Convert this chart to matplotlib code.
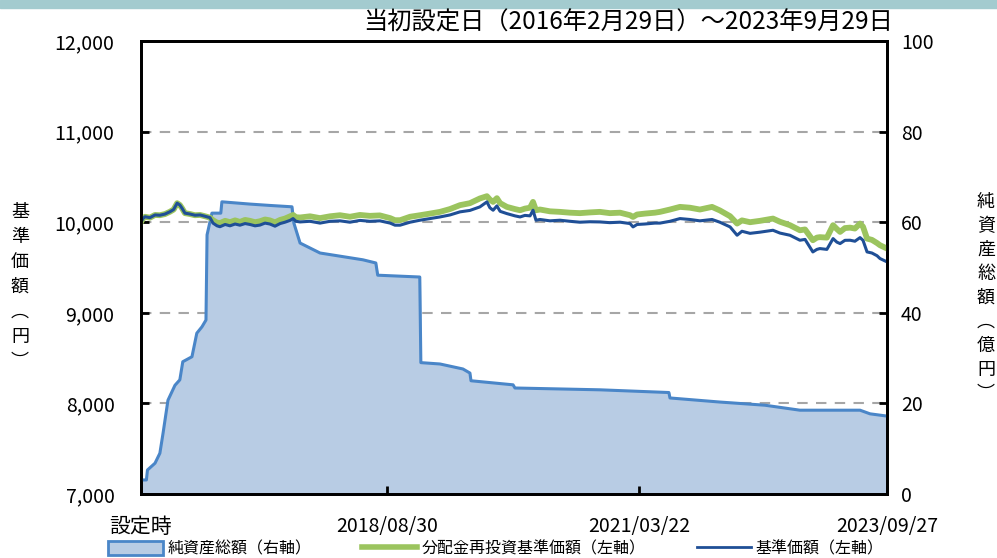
import pandas as pd
import matplotlib
matplotlib.use('Agg')
import matplotlib.pyplot as plt
from matplotlib.patches import Rectangle, Patch
from matplotlib.lines import Line2D

plt.rcParams['font.family'] = ['Noto Sans CJK JP', 'DejaVu Sans']

# 基準価額 / 分配金再投資基準価額 (left axis, yen)
price_dates = [
    '2016-02-29', '2016-03-07', '2016-03-15', '2016-04-02', '2016-04-21', '2016-05-09',
    '2016-05-28', '2016-06-15', '2016-06-29', '2016-07-12', '2016-07-22', '2016-07-30',
    '2016-08-10', '2016-08-29', '2016-09-16', '2016-10-05', '2016-10-23', '2016-11-11',
    '2016-11-22', '2016-12-07', '2016-12-18', '2017-01-06', '2017-01-24', '2017-02-12',
    '2017-03-02', '2017-03-21', '2017-04-08', '2017-04-27', '2017-05-15', '2017-06-03',
    '2017-06-21', '2017-07-10', '2017-07-29', '2017-08-16', '2017-09-04', '2017-09-15',
    '2017-09-26', '2017-10-11', '2017-11-17', '2017-12-24', '2018-01-30', '2018-03-08',
    '2018-04-14', '2018-05-21', '2018-06-27', '2018-08-03', '2018-09-10', '2018-09-28',
    '2018-10-17', '2018-11-23', '2018-12-30', '2019-02-05', '2019-03-14', '2019-04-20',
    '2019-05-27', '2019-07-03', '2019-08-09', '2019-09-04', '2019-09-15', '2019-09-27',
    '2019-10-11', '2019-10-23', '2019-11-17', '2019-12-17', '2020-01-05', '2020-01-23',
    '2020-02-11', '2020-02-22', '2020-03-04', '2020-03-19', '2020-04-25', '2020-06-01',
    '2020-07-08', '2020-08-14', '2020-09-20', '2020-10-27', '2020-12-03', '2021-01-10',
    '2021-02-16', '2021-02-27', '2021-03-14', '2021-04-12', '2021-05-19', '2021-06-07',
    '2021-07-14', '2021-08-20', '2021-09-26', '2021-11-02', '2021-12-17', '2022-01-15',
    '2022-02-22', '2022-03-20', '2022-04-07', '2022-05-07', '2022-06-13', '2022-07-31',
    '2022-08-26', '2022-10-02', '2022-11-08', '2022-11-27', '2022-12-26', '2023-01-10',
    '2023-01-21', '2023-02-16', '2023-03-11', '2023-03-25', '2023-04-06', '2023-04-24',
    '2023-05-13', '2023-05-31', '2023-06-19', '2023-06-30', '2023-07-15', '2023-08-02',
    '2023-08-21', '2023-09-01', '2023-09-27',
]
nav = [
    10000, 10040, 10060, 10050, 10080, 10077,
    10090, 10115, 10140, 10210, 10190, 10155,
    10100, 10090, 10077, 10080, 10066, 10050,
    9990, 9960, 9950, 9975, 9960, 9980,
    9967, 9985, 9975, 9960, 9968, 9990,
    9980, 9956, 9985, 10000, 10020, 10040,
    10010, 10003, 10010, 9990, 10010, 10015,
    10000, 10020, 10010, 10015, 9990, 9967,
    9967, 10000, 10022, 10040, 10058, 10080,
    10114, 10130, 10169, 10224, 10160, 10132,
    10180, 10120, 10095, 10070, 10058, 10075,
    10070, 10132, 10022, 10030, 10015, 10022,
    10010, 10000, 10005, 10003, 9995, 10000,
    9985, 9948, 9975, 9980, 9990, 9990,
    10010, 10040, 10030, 10015, 10030, 10000,
    9948, 9856, 9900, 9877, 9890, 9911,
    9880, 9856, 9801, 9810, 9672, 9700,
    9709, 9700, 9819, 9780, 9764, 9800,
    9801, 9790, 9830, 9800, 9672, 9660,
    9630, 9599, 9562,
]
nav_reinv = [
    10000, 10040, 10060, 10050, 10080, 10077,
    10090, 10115, 10140, 10210, 10190, 10155,
    10100, 10090, 10077, 10080, 10066, 10050,
    10022, 9995, 9990, 10015, 10000, 10020,
    10003, 10025, 10015, 10000, 10010, 10030,
    10020, 9998, 10025, 10040, 10065, 10080,
    10055, 10052, 10065, 10045, 10065, 10077,
    10060, 10080, 10070, 10075, 10045, 10022,
    10022, 10060, 10077, 10095, 10114, 10145,
    10188, 10210, 10262, 10287, 10250, 10224,
    10265, 10210, 10169, 10145, 10132, 10150,
    10160, 10224, 10132, 10140, 10120, 10114,
    10105, 10100, 10108, 10114, 10100, 10105,
    10077, 10058, 10085, 10095, 10105, 10114,
    10140, 10169, 10160, 10140, 10169, 10130,
    10066, 9985, 10020, 10000, 10015, 10040,
    10005, 9967, 9911, 9920, 9801, 9830,
    9835, 9830, 9967, 9925, 9893, 9935,
    9940, 9930, 9985, 9950, 9819, 9805,
    9770, 9746, 9709,
]

# 純資産総額 (right axis, 億円)
asset_dates = [
    '2016-02-29', '2016-03-20', '2016-03-24', '2016-04-21', '2016-05-09', '2016-05-21',
    '2016-06-08', '2016-07-04', '2016-07-22', '2016-08-02', '2016-09-05', '2016-09-23',
    '2016-10-12', '2016-10-27', '2016-10-31', '2016-11-18', '2016-12-21', '2016-12-25',
    '2017-04-08', '2017-06-21', '2017-09-11', '2017-09-18', '2017-10-11', '2017-12-24',
    '2018-06-01', '2018-07-19', '2018-07-26', '2018-12-29', '2019-01-02', '2019-03-14',
    '2019-06-07', '2019-07-03', '2019-07-07', '2019-12-10', '2019-12-17', '2020-10-27',
    '2021-07-10', '2021-07-14', '2022-01-15', '2022-07-01', '2022-11-08', '2023-06-19',
    '2023-07-26', '2023-09-27',
]
assets = [
    3.1, 3.1, 5.3, 6.8, 9.0, 13.5,
    20.7, 24.0, 25.2, 29.2, 30.3, 35.5,
    36.9, 38.4, 57.2, 62.0, 62.0, 64.5,
    64.0, 63.7, 63.4, 59.8, 55.4, 53.2,
    51.7, 51.0, 48.3, 47.9, 29.0, 28.7,
    27.6, 26.7, 25.0, 24.1, 23.4, 23.0,
    22.4, 21.2, 20.3, 19.6, 18.5, 18.5,
    17.7, 17.2,
]

tick_dates = ['2016-02-29', '2018-08-30', '2021-03-22', '2023-09-27']
tick_labels = ['設定時', '2018/08/30', '2021/03/22', '2023/09/27']

price_dates = pd.to_datetime(price_dates)
asset_dates = pd.to_datetime(asset_dates)
tick_dates = pd.to_datetime(tick_dates)

cream = '#f9f8e2'
fill_col = '#b8cce4'
edge_col = '#4a86c8'
green = '#9bc45e'
navy = '#1f4f96'

fig = plt.figure(figsize=(9.97, 5.58), dpi=100)
fig.patches.append(Rectangle((0, 1 - 8 / 558), 1, 8 / 558, transform=fig.transFigure,
                             color='#a3cbcf', zorder=0))

ax = fig.add_axes([141 / 997, 1 - 494 / 558, 746 / 997, 453 / 558])
ax2 = ax.twinx()
ax.set_zorder(ax2.get_zorder() + 1)
ax.patch.set_visible(False)
ax2.set_facecolor(cream)

ax2.fill_between(asset_dates, assets, 0, color=fill_col, zorder=2)
ax2.plot(asset_dates, assets, color=edge_col, lw=2.2, zorder=3)

ax.plot(price_dates, nav_reinv, color=green, lw=4.2, solid_joinstyle='round')
ax.plot(price_dates, nav, color=navy, lw=2.2)

ax.set_ylim(7000, 12000)
ax.set_yticks(range(7000, 12001, 1000))
ax.set_yticklabels([f'{v:,}' for v in range(7000, 12001, 1000)])
ax2.set_ylim(0, 100)
ax2.set_yticks(range(0, 101, 20))
ax2.yaxis.grid(True, color='#a6a6a6', linestyle=(0, (5, 4)), lw=1.5)
ax2.set_axisbelow(True)

ax.set_xlim(tick_dates[0], tick_dates[-1])
ax.set_xticks(tick_dates)
ax.set_xticklabels(tick_labels)

for a in (ax, ax2):
    for s in a.spines.values():
        s.set_linewidth(2)
        s.set_color('black')
ax.tick_params(axis='both', direction='in', length=6, width=2)
ax.tick_params(axis='x', pad=16, labelsize=14)
ax.tick_params(axis='y', pad=19, labelsize=14)
ax2.tick_params(axis='y', direction='in', length=6, width=2, labelsize=14, pad=10)
ax.get_xticklabels()[0].set_fontsize(15)

fig.text(893 / 997, 1 - 23 / 558, '当初設定日（2016年2月29日）～2023年9月29日',
         ha='right', va='center', fontsize=17.5)

left_label = ['基', '準', '価', '額', '︵', '円', '︶']
for i, ch in enumerate(left_label):
    fig.text(20 / 997, 1 - (212 + i * 25) / 558, ch, ha='center', va='center', fontsize=13)
right_label = ['純', '資', '産', '総', '額', '︵', '億', '円', '︶']
for i, ch in enumerate(right_label):
    fig.text(986 / 997, 1 - (202 + i * 24) / 558, ch, ha='center', va='center', fontsize=13)

handles = [
    Patch(facecolor=fill_col, edgecolor=edge_col, lw=2),
    Line2D([], [], color=green, lw=4),
    Line2D([], [], color=navy, lw=2),
]
labels = ['純資産総額（右軸）', '分配金再投資基準価額（左軸）', '基準価額（左軸）']
fig.legend(handles, labels, loc='center', bbox_to_anchor=(496 / 997, 1 - 549 / 558),
           ncol=3, frameon=False, fontsize=11.5, handlelength=3.4, handleheight=0.9,
           handletextpad=0.3, columnspacing=3.2, borderpad=0)

fig.savefig('out.png', dpi=100)
